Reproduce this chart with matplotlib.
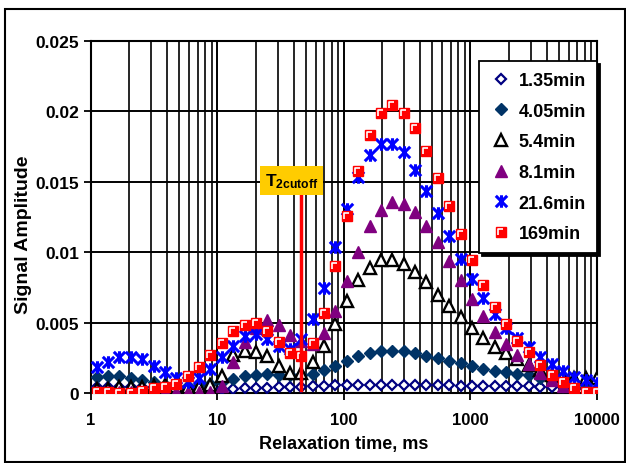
import matplotlib
matplotlib.use('Agg')
import matplotlib.pyplot as plt
from matplotlib.path import Path
from matplotlib.patches import Rectangle
from matplotlib.legend_handler import HandlerTuple
from matplotlib.ticker import FixedLocator, LogLocator, NullFormatter

plt.rcParams['font.family'] = ['Liberation Sans', 'DejaVu Sans']
plt.rcParams['font.weight'] = 'bold'
plt.rcParams['mathtext.fontset'] = 'custom'
plt.rcParams['mathtext.bf'] = 'Liberation Sans:bold'
plt.rcParams['mathtext.rm'] = 'Liberation Sans:bold'

# relaxation times (ms)
t2 = [1.109, 1.364, 1.678, 2.064, 2.539, 3.122, 3.840, 4.724, 5.809, 7.145,
      8.789, 10.81, 13.30, 16.35, 20.11, 24.74, 30.42, 37.42, 46.03, 56.61,
      69.63, 85.65, 105.3, 129.6, 159.4, 196.0, 241.1, 296.6, 364.8, 448.7,
      551.8, 678.7, 834.8, 1027, 1263, 1554, 1911, 2350, 2891, 3556,
      4373, 5379, 6616, 8137, 10000]

amp_1_35 = [0.0004, 0.0004, 0.0004, 0.0004, 0.0004, 0.0004, 0.0004, 0.0003, 0.0003, 0.0003,
            0.0003, 0.0003, 0.0003, 0.00035, 0.00035, 0.00035, 0.0004, 0.0004, 0.0004, 0.0005,
            0.0005, 0.00055, 0.00055, 0.00055, 0.00055, 0.00055, 0.00055, 0.00055, 0.00055, 0.00055,
            0.00055, 0.00055, 0.0005, 0.0005, 0.0005, 0.0005, 0.0005, 0.0005, 0.0005, 0.00045,
            0.0004, 0.0004, 0.0003, 0.0003, 0.0003]
amp_4_05 = [0.00115, 0.0012, 0.0012, 0.00105, 0.0009, 0.00075, 0.0006, 0.0005, 0.0005, 0.0006,
            0.00064, 0.00076, 0.001, 0.0012, 0.0013, 0.00133, 0.00125, 0.0013, 0.0013, 0.00138,
            0.00162, 0.00195, 0.0023, 0.00265, 0.00283, 0.00295, 0.00295, 0.00295, 0.00282, 0.00265,
            0.0025, 0.0023, 0.00213, 0.00194, 0.0017, 0.00158, 0.0015, 0.00138, 0.00125, 0.0011,
            0.001, 0.0008, 0.0006, 0.0004, 0.0003]
amp_5_4 = [0.0003, 0.0003, 0.0004, 0.0004, 0.0004, 0.0005, 0.0006, 0.0005, 0.0004, 0.0004,
           0.0006, 0.0012, 0.0027, 0.003, 0.0029, 0.0026, 0.0019, 0.00145, 0.00142, 0.00218,
           0.00336, 0.0049, 0.00656, 0.008, 0.00886, 0.00947, 0.00947, 0.00916, 0.00857, 0.0079,
           0.00698, 0.00616, 0.00538, 0.0046, 0.0039, 0.0033, 0.00287, 0.0024, 0.002, 0.0016,
           0.0013, 0.0012, 0.0011, 0.0011, 0.0011]
amp_8_1 = [0.00005, 0.00005, 0.00005, 0.00005, 0.00005, 0.00005, 0.00005, 0.00005, 0.00005, 0.00005,
           0.00005, 0.0005, 0.0022, 0.0036, 0.0046, 0.00522, 0.00483, 0.0041, 0.0037, 0.00348,
           0.00426, 0.00585, 0.00798, 0.01004, 0.01188, 0.0130, 0.01354, 0.01342, 0.01283, 0.01188,
           0.0107, 0.0094, 0.00803, 0.00668, 0.00545, 0.00436, 0.00348, 0.00273, 0.00208, 0.00145,
           0.00095, 0.0005, 0.00022, 0.0001, 0.00003]
amp_21_6 = [0.00185, 0.00218, 0.00255, 0.00255, 0.0024, 0.00194, 0.0015, 0.0011, 0.00076, 0.00105,
            0.0017, 0.00254, 0.00336, 0.00405, 0.00422, 0.0038, 0.00336, 0.00315, 0.00384, 0.00528,
            0.00747, 0.0104, 0.01307, 0.01532, 0.0169, 0.01768, 0.01768, 0.0171, 0.01586, 0.01437,
            0.01278, 0.01113, 0.00955, 0.00808, 0.00678, 0.00558, 0.00463, 0.0039, 0.00325, 0.00254,
            0.00203, 0.00158, 0.00117, 0.0009, 0.0007]
amp_169 = [0.00005, 0.00005, 0.0, 0.0, 0.00016, 0.00033, 0.0004, 0.00064, 0.0012, 0.00188,
           0.0027, 0.00357, 0.00442, 0.00483, 0.005, 0.00442, 0.0036, 0.00284, 0.0026, 0.00357,
           0.0057, 0.009, 0.01255, 0.01579, 0.01835, 0.01989, 0.02048, 0.01989, 0.01882, 0.01721,
           0.01525, 0.01326, 0.01127, 0.00942, 0.0077, 0.00614, 0.0049, 0.00371, 0.00289, 0.002,
           0.0013, 0.00078, 0.00033, 0.00008, 0.00005]

labels = ['1.35min', '4.05min', '5.4min', '8.1min', '21.6min', '169min']
x_ticks = [1, 10, 100, 1000, 10000]
y_ticks = [0, 0.005, 0.01, 0.015, 0.02, 0.025]
y_tick_labels = ['0', '0.005', '0.01', '0.015', '0.02', '0.025']

t2_cutoff = 46.03
cutoff_top = 0.0141

# custom markers: Excel-like star and the white corner inside the red squares
star = Path([(-1, -1), (1, 1), (-1, 1), (1, -1), (0, -1.1), (0, 1.1)],
            [Path.MOVETO, Path.LINETO, Path.MOVETO, Path.LINETO, Path.MOVETO, Path.LINETO])
corner = Path([(-0.6, -0.7), (-0.6, 0.6), (0.5, 0.6)],
              [Path.MOVETO, Path.LINETO, Path.LINETO])

fig = plt.figure(figsize=(6.26, 4.64), dpi=100)
ax = fig.add_axes([91 / 626, 70 / 464, 506 / 626, 352 / 464])

# outer chart frame
fig.patches.append(Rectangle((5 / 626, 1 / 464), 620 / 626, 453 / 464, transform=fig.transFigure,
                             fill=False, edgecolor='black', linewidth=1.5))

h1, = ax.plot(t2, amp_1_35, ls='none', marker='D', ms=5.5, mfc='white', mec='#000080', mew=1.6, zorder=3)
h2, = ax.plot(t2, amp_4_05, ls='none', marker='D', ms=6.5, mfc='#003366', mec='#003366', zorder=3)
h3, = ax.plot(t2, amp_5_4, ls='none', marker='^', ms=8, mfc='white', mec='black', mew=1.7, zorder=3)
h4, = ax.plot(t2, amp_8_1, ls='none', marker='^', ms=8.5, mfc='#800080', mec='#800080', zorder=3)
h5, = ax.plot(t2, amp_21_6, ls='none', marker=star, ms=9, mec='#0000FF', mew=2.2, zorder=3)
h6a, = ax.plot(t2, amp_169, ls='none', marker='s', ms=7.5, mfc='#FF0000', mec='#FF0000', zorder=3)
h6b, = ax.plot(t2, amp_169, ls='none', marker=corner, ms=4.8, mfc='none', mec='white', mew=1.2, zorder=3)

# T2 cutoff line and label
ax.plot([t2_cutoff, t2_cutoff], [0.0002, cutoff_top], color='#FF0000', lw=2.5, zorder=4)
ax.text(38.5, 0.0151, r'$\mathbf{T_{2cutoff}}$', fontsize=12.5, ha='center', va='center', zorder=5,
        bbox=dict(boxstyle='square,pad=0.3', facecolor='#FFCC00', edgecolor='none'))

ax.set_xscale('log')
ax.set_xlim(1, 10000)
ax.set_ylim(0, 0.025)
ax.xaxis.set_major_locator(FixedLocator(x_ticks))
ax.set_xticklabels([str(v) for v in x_ticks])
ax.xaxis.set_minor_locator(LogLocator(base=10, subs=range(2, 10)))
ax.xaxis.set_minor_formatter(NullFormatter())
ax.set_yticks(y_ticks)
ax.set_yticklabels(y_tick_labels)

ax.grid(True, which='major', color='black', lw=1.4)
ax.grid(True, which='minor', axis='x', color='black', lw=1.2)
ax.set_axisbelow(True)
for s in ax.spines.values():
    s.set_linewidth(1.5)

ax.tick_params(axis='x', which='major', direction='out', length=5, width=1.3, pad=9, labelsize=12)
ax.tick_params(axis='x', which='minor', length=0)
ax.tick_params(axis='y', direction='out', length=5, width=1.3, pad=3.5, labelsize=12.5)
for lab in ax.get_xticklabels() + ax.get_yticklabels():
    lab.set_fontweight('bold')

ax.set_xlabel('Relaxation time, ms', fontsize=13, fontweight='bold')
ax.set_ylabel('Signal Amplitude', fontsize=14, fontweight='bold')
ax.xaxis.set_label_coords(0.5, -0.118)
ax.yaxis.set_label_coords(-0.117, 0.452)

leg = ax.legend([h1, h2, h3, h4, h5, (h6a, h6b)], labels,
                handler_map={tuple: HandlerTuple(ndivide=1)},
                loc='upper right', bbox_to_anchor=(1.0, 1 - 20 / 352),
                fontsize=13, frameon=True, fancybox=False, shadow={'color': 'black', 'alpha': 1},
                edgecolor='black', facecolor='white', framealpha=1,
                handlelength=1.2, handletextpad=0.4, labelspacing=0.76,
                borderpad=0.6, borderaxespad=0)
leg.get_frame().set_linewidth(1.3)
leg.set_zorder(10)
for t in leg.get_texts():
    t.set_fontweight('bold')

fig.savefig('out.png', dpi=100)
